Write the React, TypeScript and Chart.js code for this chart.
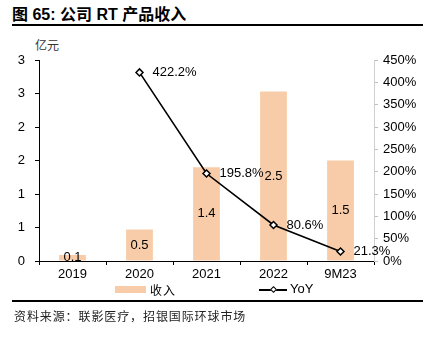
import React, { useEffect, useRef } from "react";
import { Chart, registerables } from "chart.js";

Chart.register(...registerables);

const categories = ["2019", "2020", "2021", "2022", "9M23"];
const revenue = [0.09, 0.47, 1.4, 2.53, 1.5];
const revenueLabels = ["0.1", "0.5", "1.4", "2.5", "1.5"];
const yoy = [null, 422.2, 195.8, 80.6, 21.3];
const yoyLabels = ["", "422.2%", "195.8%", "80.6%", "21.3%"];
const leftTickLabels = ["0", "1", "1", "2", "2", "3", "3"];
const rightTickLabels = ["0%", "50%", "100%", "150%", "200%", "250%", "300%", "350%", "400%", "450%"];

const BAR_COLOR = "#F8CCA8";
const FONT = '"Liberation Sans", Arial, "Noto Sans CJK SC", sans-serif';

const labelPlugin = {
  id: "valueLabels",
  afterDatasetsDraw(chart: any) {
    const ctx = chart.ctx;
    ctx.save();
    ctx.font = `13px ${FONT}`;
    ctx.fillStyle = "#000";
    const barMeta = chart.getDatasetMeta(0);
    barMeta.data.forEach((el: any, i: number) => {
      ctx.textAlign = "center";
      ctx.textBaseline = "middle";
      ctx.fillText(revenueLabels[i], el.x, (el.y + el.base) / 2);
    });
    const lineMeta = chart.getDatasetMeta(1);
    lineMeta.data.forEach((el: any, i: number) => {
      if (yoy[i] == null) return;
      ctx.textAlign = "left";
      ctx.textBaseline = "middle";
      ctx.fillText(yoyLabels[i], el.x + 13, el.y);
    });
    ctx.restore();
  },
};

export default function App() {
  const ref = useRef<HTMLCanvasElement>(null);

  useEffect(() => {
    if (!ref.current) return;
    Chart.defaults.font.family = FONT;
    Chart.defaults.color = "#000";
    const chart = new Chart(ref.current, {
      type: "bar",
      data: {
        labels: categories,
        datasets: [
          {
            type: "bar",
            label: "收入",
            data: revenue,
            backgroundColor: BAR_COLOR,
            borderWidth: 0,
            barPercentage: 0.4,
            categoryPercentage: 1,
            yAxisID: "y",
            order: 1,
          },
          {
            type: "line",
            label: "YoY",
            data: yoy as any,
            borderColor: "#000",
            borderWidth: 1.6,
            pointStyle: "rectRot",
            pointRadius: 3.5,
            pointBackgroundColor: "#fff",
            pointBorderColor: "#000",
            pointBorderWidth: 1.5,
            yAxisID: "y1",
            order: 0,
            tension: 0,
          } as any,
        ],
      },
      options: {
        responsive: false,
        animation: false,
        devicePixelRatio: 1,
        layout: { padding: { top: 60, left: 0, right: 0, bottom: 0 } },
        plugins: { legend: { display: false }, tooltip: { enabled: false } },
        scales: {
          x: {
            grid: { drawOnChartArea: false, drawTicks: true, tickLength: 4, color: "#000", offset: true },
            border: { display: true, color: "#000", width: 1 },
            ticks: { font: { size: 13 }, padding: 2, color: "#000", maxRotation: 0 },
            afterFit: (s: any) => { s.height = 76; },
          },
          y: {
            position: "left",
            min: 0,
            max: 3,
            grid: { drawOnChartArea: false, drawTicks: true, tickLength: 4, color: "#000" },
            border: { display: true, color: "#000", width: 1 },
            ticks: {
              stepSize: 0.5,
              font: { size: 13 },
              padding: 10,
              color: "#000",
              callback: (_v: any, i: number) => leftTickLabels[i],
            },
            afterFit: (s: any) => { s.width = 39; },
          },
          y1: {
            position: "right",
            min: 0,
            max: 450,
            grid: { drawOnChartArea: false, drawTicks: true, tickLength: 4, color: "#BFBFBF" },
            border: { display: true, color: "#D0D0D0", width: 1 },
            ticks: {
              stepSize: 50,
              font: { size: 13 },
              padding: 5,
              color: "#000",
              callback: (_v: any, i: number) => rightTickLabels[i],
            },
            afterFit: (s: any) => { s.width = 57; },
          },
        },
      },
      plugins: [labelPlugin],
    });
    return () => chart.destroy();
  }, []);

  const txt: React.CSSProperties = { position: "absolute", fontFamily: FONT, color: "#000", whiteSpace: "nowrap" };

  return (
    <div style={{ position: "absolute", left: 0, top: 0, width: 431, height: 337, background: "#fff", overflow: "hidden" }}>
      <div style={{ ...txt, left: 12, top: 1, fontSize: 16, fontWeight: "bold" }}>图 65: 公司 RT 产品收入</div>
      <div style={{ position: "absolute", left: 12, top: 24, width: 411, height: 2, background: "#000" }} />
      <div style={{ ...txt, left: 35, top: 36, fontSize: 12, color: "#333" }}>亿元</div>
      <canvas ref={ref} width={431} height={337} style={{ position: "absolute", left: 0, top: 0, width: 431, height: 337 }} />
      <div style={{ position: "absolute", left: 115, top: 286, width: 31, height: 7, background: BAR_COLOR }} />
      <div style={{ ...txt, left: 150, top: 281, fontSize: 12, letterSpacing: 1 }}>收入</div>
      <div style={{ position: "absolute", left: 259, top: 289, width: 28, height: 1.5, background: "#000" }} />
      <div style={{ position: "absolute", left: 270.5, top: 286.5, width: 5, height: 5, background: "#fff", border: "1.3px solid #000", transform: "rotate(45deg)", boxSizing: "border-box" }} />
      <div style={{ ...txt, left: 290, top: 281, fontSize: 13 }}>YoY</div>
      <div style={{ position: "absolute", left: 12, top: 300, width: 411, height: 2, background: "#000" }} />
      <div style={{ ...txt, left: 14, top: 307, fontSize: 12, letterSpacing: 0.9, color: "#222" }}>资料来源：联影医疗，招银国际环球市场</div>
    </div>
  );
}
